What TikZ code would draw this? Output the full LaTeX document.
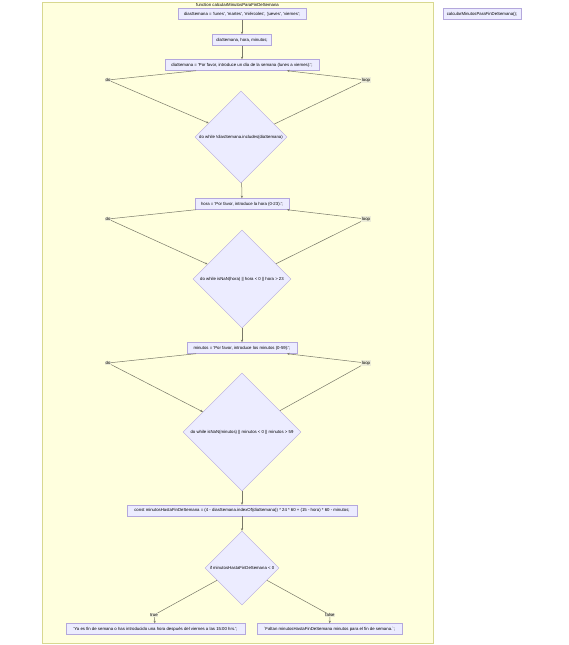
\documentclass[tikz,border=0pt]{standalone}
\usepackage{fontspec}
\setmainfont{Liberation Sans}[Ligatures=TeXOff]
\usetikzlibrary{shapes.geometric,arrows.meta,calc}
\definecolor{nodefill}{HTML}{ECECFF}
\definecolor{nodeborder}{HTML}{B4A8DC}
\definecolor{clusterfill}{HTML}{FFFFDE}
\definecolor{clusterborder}{HTML}{D8D890}
\definecolor{edgecol}{HTML}{787868}
\definecolor{labelbg}{HTML}{ECECD8}
\begin{document}
\begin{tikzpicture}[x=1pt,y=-1pt,
  txt/.style={font=\fontsize{4.3}{5}\selectfont},
  box/.style={txt, draw=nodeborder, fill=nodefill, line width=0.4pt, inner sep=0pt, minimum height=11pt},
  dia/.style={txt, diamond, aspect=1, draw=nodeborder, fill=nodefill, line width=0.4pt, inner sep=0pt},
  lbl/.style={txt, fill=labelbg, inner sep=0.6pt},
  ln/.style={draw=edgecol, line width=0.5pt},
  arr/.style={ln, -{Stealth[length=2.6pt,width=2.2pt]}}
]
\useasboundingbox (0,0) rectangle (569,645);
% cluster
\path[fill=clusterfill, draw=clusterborder, line width=0.5pt] (42,2) rectangle (433,643);
\node[txt, inner sep=0pt] (title) at (237.5,4.5) {function calcularMinutosParaFinDeSemana};

% nodes
\node[box, minimum width=128pt] (n1) at (242,14) {\makebox[0pt]{diasSemana = 'lunes', 'martes', 'miércoles', 'jueves', 'viernes';}};
\node[box, minimum width=59pt] (n2) at (242,40) {\makebox[0pt]{diaSemana, hora, minutos;}};
\node[box, minimum width=154pt] (n3) at (242,65) {\makebox[0pt]{diaSemana = 'Por favor, introduce un día de la semana (lunes a viernes):';}};
\node[dia, minimum size=92pt] (d1) at (241,137) {\makebox[0pt]{do while !diasSemana.includes(diaSemana)}};
\node[box, minimum width=94pt] (n4) at (242,204) {\makebox[0pt]{hora = 'Por favor, introduce la hora (0-23):';}};
\node[dia, minimum size=98pt] (d2) at (242,279) {\makebox[0pt]{do while isNaN(hora) || hora < 0 || hora > 23}};
\node[box, minimum width=110pt] (n5) at (242,348) {\makebox[0pt]{minutos = 'Por favor, introduce los minutos (0-59):';}};
\node[dia, minimum size=118pt] (d3) at (242,432) {\makebox[0pt]{do while isNaN(minutos) || minutos < 0 || minutos > 59}};
\node[box, minimum width=230pt] (n6) at (242,510.5) {\makebox[0pt]{const minutosHastaFinDeSemana = (4 - diasSemana.indexOf(diaSemana)) * 24 * 60 + (15 - hora) * 60 - minutos;}};
\node[dia, minimum size=74pt] (d4) at (242,568) {\makebox[0pt]{if minutosHastaFinDeSemana < 0}};
\node[box, minimum width=179pt] (n7) at (155.5,629) {\makebox[0pt]{'Ya es fin de semana o has introducido una hora después del viernes a las 15:00 hrs.';}};
\node[box, minimum width=145pt] (n8) at (329.5,629) {\makebox[0pt]{`Faltan minutosHastaFinDeSemana minutos para el fin de semana.`;}};
\node[box, minimum width=78pt] (n9) at (482,14) {\makebox[0pt]{calcularMinutosParaFinDeSemana();}};

% bend coordinates
\coordinate (do1) at (108,80);
\coordinate (lp1) at (366,80);
\coordinate (do2) at (108,219);
\coordinate (lp2) at (366,219);
\coordinate (do3) at (108,363);
\coordinate (lp3) at (366,363);
\coordinate (tr) at (154,615);
\coordinate (fa) at (330,615);

% edges
\draw[arr] (n1) -- (n2);
\draw[arr] (n2) -- (n3);
\draw[arr] ($(n3.south)+(-46,0)$) -- (do1) -- ($(d1.west)!0.3!(d1.north)$);
\draw[arr] ($(d1.north)!0.72!(d1.east)$) -- (lp1) -- ($(n3.south)+(45,0)$);
\draw[arr] (d1) -- (n4);
\draw[arr] ($(n4.south)+(-46,0)$) -- (do2) -- ($(d2.west)!0.3!(d2.north)$);
\draw[arr] ($(d2.north)!0.69!(d2.east)$) -- (lp2) -- ($(n4.south)+(45,0)$);
\draw[arr] (d2) -- (n5);
\draw[arr] ($(n5.south)+(-46,0)$) -- (do3) -- ($(d3.west)!0.34!(d3.north)$);
\draw[arr] ($(d3.north)!0.64!(d3.east)$) -- (lp3) -- ($(n5.south)+(45,0)$);
\draw[arr] (d3) -- (n6);
\draw[arr] (n6) -- (d4);
\draw[arr] ($(d4.west)!0.33!(d4.south)$) -- (tr) -- (n7);
\draw[arr] ($(d4.east)!0.33!(d4.south)$) -- (fa) -- (n8);

% edge labels
\node[lbl] (ldo1) at (do1) {do};
\node[lbl] (llp1) at (lp1) {loop};
\node[lbl] (ldo2) at (do2) {do};
\node[lbl] (llp2) at (lp2) {loop};
\node[lbl] (ldo3) at (do3) {do};
\node[lbl] (llp3) at (lp3) {loop};
\node[lbl] (ltr) at (tr) {true};
\node[lbl] (lfa) at (fa) {false};
\end{tikzpicture}
\end{document}
